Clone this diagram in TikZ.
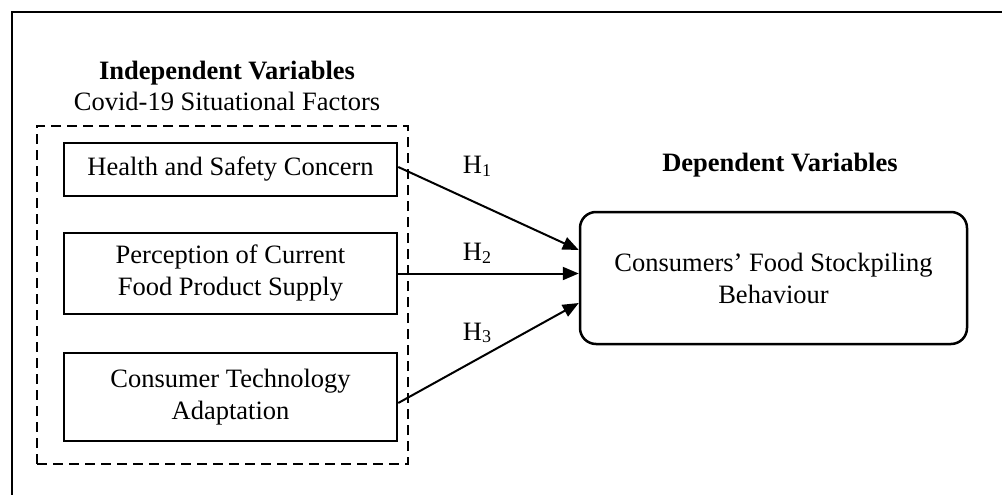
\documentclass[tikz,border=0pt]{standalone}
\usepackage{fontspec}
\setmainfont{Liberation Serif}
\usetikzlibrary{arrows.meta}
\newcommand\basefont{\fontsize{26.5}{32}\selectfont}
\newcommand\hsub[1]{H\raisebox{-0.22ex}{\fontsize{18}{18}\selectfont #1}}
\begin{document}
\begin{tikzpicture}[x=1pt,y=-1pt,
  every node/.style={font=\basefont, inner sep=0pt},
  factorbox/.style={draw,line width=2.5pt,minimum width=333pt,align=center},
  groupbox/.style={draw,line width=2.4pt,dash pattern=on 10pt off 6pt},
  depbox/.style={draw,line width=2.5pt,rounded corners=16pt,minimum width=387pt,minimum height=132pt,align=center},
  link/.style={line width=2pt,-{Triangle[length=16pt,width=13pt]}},
  titletext/.style={font=\basefont\bfseries}]
\useasboundingbox (0,0) rectangle (1002,495);
\draw[line width=2.5pt] (12,496) -- (12,12) -- (1003,12);
\node[titletext] (indt) at (227,73) {Independent Variables};
\node (sub) at (227,101) {Covid-19 Situational Factors};
\node[groupbox,minimum width=371pt,minimum height=338pt] (grp) at (222.5,295) {};
\node[factorbox,minimum height=53pt] (f1) at (230.5,169.5) {Health and Safety Concern};
\node[factorbox,minimum height=81pt] (f2) at (230.5,273.5) {Perception of Current\\Food Product Supply};
\node[factorbox,minimum height=88pt] (f3) at (230.5,397) {Consumer Technology\\Adaptation};
\node[titletext] (dept) at (780,165) {Dependent Variables};
\node[depbox] (dep) at (773.5,278) {Consumers’ Food Stockpiling\\Behaviour};
\draw[link] ([yshift=2.5pt]f1.east) -- ([yshift=28pt]dep.west);
\draw[link] (f2.east) -- ([yshift=4.5pt]dep.west);
\draw[link] ([yshift=-6pt]f3.east) -- ([yshift=-25pt]dep.west);
\node (h1) at (477,166) {\hsub{1}};
\node (h2) at (477,253) {\hsub{2}};
\node (h3) at (477,333) {\hsub{3}};
\end{tikzpicture}
\end{document}
